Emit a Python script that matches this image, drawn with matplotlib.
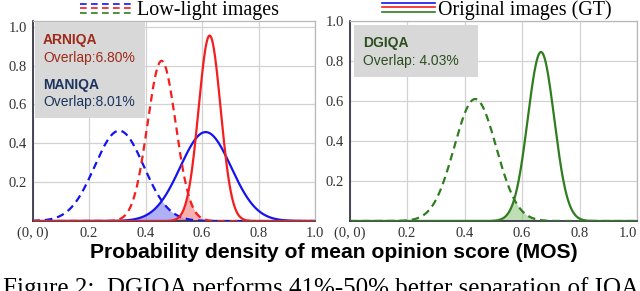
import numpy as np
import matplotlib.pyplot as plt
from matplotlib.lines import Line2D
from matplotlib.patches import Rectangle

# ---- data (Gaussian-shaped density curves) ----
models = ["MANIQA", "ARNIQA", "DGIQA"]
overlap_text = ["Overlap:8.01%", "Overlap:6.80%", "Overlap: 4.03%"]
low_mean = [0.307, 0.457, 0.437]
low_std = [0.087, 0.050, 0.073]
low_peak = [0.465, 0.825, 0.61]
gt_mean = [0.613, 0.627, 0.666]
gt_std = [0.090, 0.039, 0.046]
gt_peak = [0.458, 0.955, 0.845]

x_ticks = [0, 0.2, 0.4, 0.6, 0.8, 1.0]
x_tick_labels = ["(0, 0)", "0.2", "0.4", "0.6", "0.8", "1.0"]
y_ticks = [0.2, 0.4, 0.6, 0.8, 1.0]
y_tick_labels = ["0.2", "0.4", "0.6", "0.8", "1.0"]

line_colors = ["#1414ee", "#f51d1d", "#2f7d1f"]
fill_colors = ["#6f6ff0", "#f07070", "#8cc47a"]
text_colors = ["#1c355e", "#9e2a1a", "#2c4f1e"]

serif = "Liberation Serif"
sans = "Liberation Sans"

x = np.linspace(0, 1, 800)


def bell(mu, sd, peak):
    return peak * np.exp(-0.5 * ((x - mu) / sd) ** 2)


W, H = 640, 291
fig = plt.figure(figsize=(W / 100, H / 100), dpi=100)

ax_l = fig.add_axes([32.5 / W, 70 / H, 282.5 / W, 200 / H])
ax_r = fig.add_axes([349.6 / W, 70 / H, 287.4 / W, 200 / H])

panels = [(ax_l, [0, 1], 1.03), (ax_r, [2], 1.0)]

for ax, idxs, ytop in panels:
    for i in idxs:
        low = bell(low_mean[i], low_std[i], low_peak[i])
        gt = bell(gt_mean[i], gt_std[i], gt_peak[i])
        ax.fill_between(x, 0, np.minimum(low, gt), color=fill_colors[i],
                        alpha=0.55, lw=0, zorder=2)
        ax.plot(x, low, color=line_colors[i], lw=1.6, dashes=(3.4, 2.2),
                zorder=3)
        ax.plot(x, gt, color=line_colors[i], lw=1.6, zorder=3)
    ax.set_xlim(0, 1.0)
    ax.set_ylim(0, ytop)
    ax.set_xticks(x_ticks)
    ax.set_xticklabels(x_tick_labels, fontfamily=serif, fontsize=10.5,
                       color="#333333")
    ax.set_yticks(y_ticks)
    ax.set_yticklabels(y_tick_labels, fontfamily=serif, fontsize=10.5,
                       color="#333333")
    ax.tick_params(length=0, pad=4)
    ax.grid(True, color="#d2d2d2", lw=0.9, zorder=0)
    ax.set_axisbelow(True)
    for s in ["left", "bottom"]:
        ax.spines[s].set_color("#2a2a3a")
        ax.spines[s].set_linewidth(1.2)
    for s in ["top", "right"]:
        ax.spines[s].set_color("#b8b8b8")
        ax.spines[s].set_linewidth(0.9)

ax_r.get_xticklabels()[-1].set_ha("right")

# annotation boxes
ax_l.add_patch(Rectangle((0.009, 0.515), 0.389, 0.48, transform=ax_l.transAxes,
                         color="#d8d8d8", lw=0, zorder=4))
ax_l.text(0.037, 0.8835, models[1], transform=ax_l.transAxes, fontfamily=sans,
          fontweight="bold", fontsize=10, color=text_colors[1], zorder=5)
ax_l.text(0.037, 0.795, overlap_text[1], transform=ax_l.transAxes,
          fontfamily=sans, fontsize=10, color=text_colors[1], zorder=5)
ax_l.text(0.037, 0.6625, models[0], transform=ax_l.transAxes, fontfamily=sans,
          fontweight="bold", fontsize=10, color=text_colors[0], zorder=5)
ax_l.text(0.037, 0.575, overlap_text[0], transform=ax_l.transAxes,
          fontfamily=sans, fontsize=10, color=text_colors[0], zorder=5)

ax_r.add_patch(Rectangle((0.015, 0.72), 0.432, 0.26, transform=ax_r.transAxes,
                         color="#d8d8d8", lw=0, zorder=4))
ax_r.text(0.0466, 0.8725, models[2], transform=ax_r.transAxes, fontfamily=sans,
          fontweight="bold", fontsize=10, color=text_colors[2], zorder=5)
ax_r.text(0.0466, 0.782, overlap_text[2], transform=ax_r.transAxes,
          fontfamily=sans, fontsize=10, color=text_colors[2], zorder=5)


# top legend (drawn in figure pixel positions)
def fx(px):
    return px / W


def fy(py):
    return 1 - py / H


for row, c in zip([4.0, 8.3, 12.7], line_colors):
    fig.add_artist(Line2D([fx(80), fx(133)], [fy(row), fy(row)], color=c,
                          lw=1.2, dashes=(4.0, 2.6)))
fig.text(fx(137), fy(15), "Low-light images", fontfamily=serif, fontsize=14.4,
         va="baseline", ha="left")

for row, c in zip([3.0, 7.0, 11.7], line_colors):
    fig.add_artist(Line2D([fx(382), fx(435)], [fy(row), fy(row)], color=c,
                          lw=1.2))
fig.text(fx(438), fy(15), "Original images (GT)", fontfamily=serif,
         fontsize=14.4, va="baseline", ha="left")

# shared x label
fig.text(fx(334), fy(253), "Probability density of mean opinion score (MOS)",
         fontfamily=sans, fontweight="bold", fontsize=15.2, ha="center",
         va="center")

# caption, cut off at the bottom edge
fig.text(fx(3), fy(295.5), "Figure 2:  DGIQA performs 41%-50% better separation of IQA",
         fontfamily=serif, fontsize=18, ha="left", va="baseline")

fig.savefig("out.png", dpi=100)
